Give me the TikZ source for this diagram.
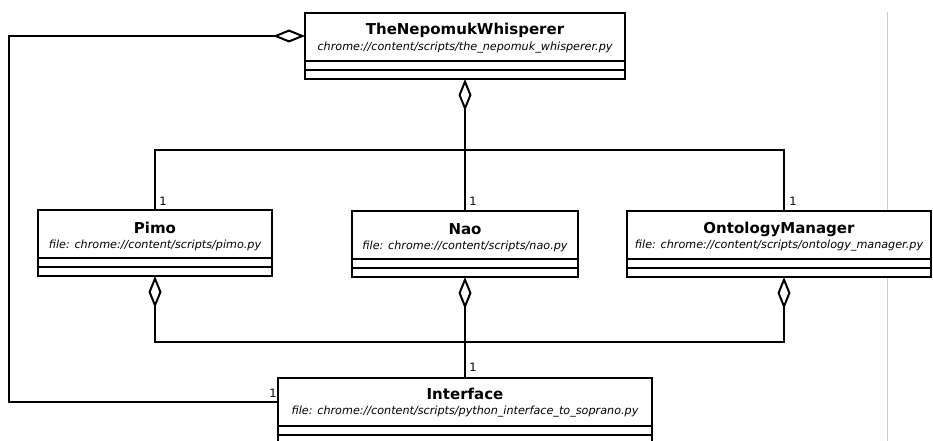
\documentclass[tikz,border=0pt]{standalone}
\usepackage{fontspec}
\setmainfont{DejaVu Sans}
\usetikzlibrary{arrows.meta,calc}
\begin{document}
\begin{tikzpicture}[x=1pt,y=-1pt,line width=2pt,
  cls/.style={draw,fill=white,inner sep=0pt,outer sep=0pt,minimum height=66pt},
  ttl/.style={font=\fontsize{15}{18}\selectfont\bfseries,inner sep=0pt},
  sub/.style={font=\fontsize{11.2}{13}\selectfont\itshape,inner sep=0pt},
  mult/.style={font=\fontsize{11.5}{13}\selectfont,inner sep=0pt},
  agg/.style={-{Diamond[open,length=32pt,width=13pt]}},
  guide/.style={draw=black!20,line width=1pt}]
\clip (0,0) rectangle (933,441);
\fill[white] (0,0) rectangle (933,441);
\coordinate (g1) at (887,12);
\coordinate (g2) at (887,441);
\draw[guide] (g1) -- (g2);
% boxes
\node[cls,minimum width=320pt] (top) at (465,46) {};
\node[cls,minimum width=234pt] (pimo) at (155,243) {};
\node[cls,minimum width=226pt] (nao) at (465,244) {};
\node[cls,minimum width=304pt] (om) at (779,244) {};
\node[cls,minimum width=374pt] (iface) at (465,411) {};
\foreach \b in {top,pimo,nao,om,iface}{
  \draw ($(\b.north west)+(0,48)$) -- ($(\b.north east)+(0,48)$);
  \draw ($(\b.north west)+(0,57)$) -- ($(\b.north east)+(0,57)$);
}
\node[ttl] (topt) at ($(top.north)+(0,17)$) {TheNepomukWhisperer};
\node[sub] (tops) at ($(top.north)+(0,35)$) {chrome://content/scripts/the\_nepomuk\_whisperer.py};
\node[ttl] (pimot) at ($(pimo.north)+(0,18)$) {Pimo};
\node[sub] (pimos) at ($(pimo.north)+(0,35)$) {file: chrome://content/scripts/pimo.py};
\node[ttl] (naot) at ($(nao.north)+(0,18)$) {Nao};
\node[sub] (naos) at ($(nao.north)+(0,35)$) {file: chrome://content/scripts/nao.py};
\node[ttl] (omt) at ($(om.north)+(0,18)$) {OntologyManager};
\node[sub] (oms) at ($(om.north)+(0,35)$) {file: chrome://content/scripts/ontology\_manager.py};
\node[ttl] (ifacet) at ($(iface.north)+(0,16)$) {Interface};
\node[sub] (ifaces) at ($(iface.north)+(0,34)$) {file: chrome://content/scripts/python\_interface\_to\_soprano.py};
% connectors top
\coordinate (bus1) at (465,150);
\coordinate (omtop) at ($(om.north)+(5,0)$);
\draw[agg] (nao.north) -- (top.south);
\draw (pimo.north) |- (bus1) -| (omtop);
% connectors bottom
\coordinate (bus2) at (465,342);
\coordinate (ombot) at ($(om.south)+(5,0)$);
\draw[agg] (iface.north) -- (nao.south);
\draw[agg] (bus2) -| (pimo.south);
\draw[agg] (bus2) -| (ombot);
% left connector
\coordinate (lft) at (9,36);
\draw[agg] ($(iface.north west)+(0,24)$) -| (lft) -- ($(top.north west)+(0,23)$);
% multiplicities
\node[mult] (m1) at ($(pimo.north)+(8,-9)$) {1};
\node[mult] (m2) at ($(nao.north)+(8,-10)$) {1};
\node[mult] (m3) at ($(omtop)+(9,-10)$) {1};
\node[mult] (m4) at ($(iface.north)+(8,-11)$) {1};
\node[mult] (m5) at ($(iface.north west)+(-5,15)$) {1};
\end{tikzpicture}
\end{document}
